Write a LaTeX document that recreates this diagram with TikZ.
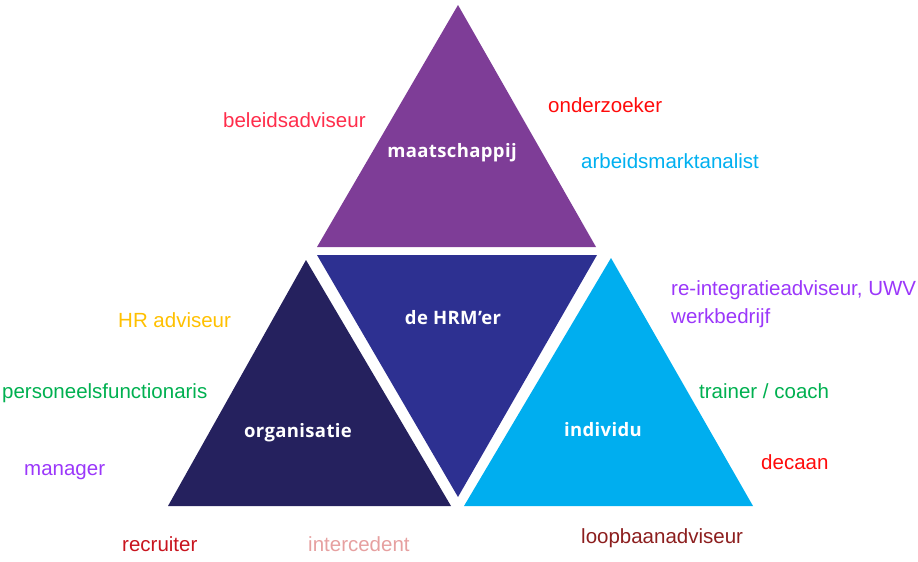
\documentclass[tikz,border=0pt]{standalone}
\usepackage{fontspec}
\setmainfont{Liberation Sans}
\newfontfamily\trifont{Open Sans}[LetterSpace=2]
\usepackage{tikz}
\usetikzlibrary{positioning}

\definecolor{societypurple}{RGB}{126,61,151}
\definecolor{hrmblue}{RGB}{45,48,145}
\definecolor{orgnavy}{RGB}{37,33,94}
\definecolor{indcyan}{RGB}{0,174,239}
\definecolor{rolepink}{RGB}{255,45,75}
\definecolor{rolered}{RGB}{255,10,10}
\definecolor{rolecyan}{RGB}{0,176,240}
\definecolor{roleviolet}{RGB}{155,55,250}
\definecolor{rolegold}{RGB}{255,192,0}
\definecolor{rolegreen}{RGB}{0,176,80}
\definecolor{rolemaroon}{RGB}{140,30,30}
\definecolor{rolecrimson}{RGB}{200,20,30}
\definecolor{rolerose}{RGB}{230,160,160}

\begin{document}
\begin{tikzpicture}[x=1pt,y=-1pt]

\tikzset{
  role/.style={font=\fontsize{20.5}{24}\selectfont, inner sep=0pt, anchor=base west},
  trilabel/.style={font=\trifont\bfseries\fontsize{18.5}{22}\selectfont,
                  text=white, inner sep=0pt, anchor=base}
}

% Page
\useasboundingbox (0,0) rectangle (918,562);

% Corners
\coordinate (maattop)   at (458,5);
\coordinate (maatleft)  at (317,247);
\coordinate (maatright) at (596,247);

\coordinate (hrmleft)   at (317,255);
\coordinate (hrmright)  at (597,255);
\coordinate (hrmbottom) at (458,497);

\coordinate (orgtop)    at (306,260);
\coordinate (orgleft)   at (168,506);
\coordinate (orgright)  at (451,506);

\coordinate (indtop)    at (611,258);
\coordinate (indleft)   at (464,506);
\coordinate (indright)  at (753,506);

% Triangles
\fill[societypurple] (maattop) -- (maatleft) -- (maatright) -- cycle;
\fill[hrmblue]       (hrmleft) -- (hrmright) -- (hrmbottom) -- cycle;
\fill[orgnavy]       (orgtop)  -- (orgleft)  -- (orgright)  -- cycle;
\fill[indcyan]       (indtop)  -- (indleft)  -- (indright)  -- cycle;

\node[trilabel] (maat) at (452,157) {maatschappij};
\node[trilabel] (hrm)  at (453,324) {de HRM’er};
\node[trilabel] (org)  at (298,437) {organisatie};
\node[trilabel] (ind)  at (603,436) {individu};

% Roles
\node[role, text=rolepink]   (beleid)   at (223,127) {beleidsadviseur};
\node[role, text=rolered]    (onderz)   at (548,112) {onderzoeker};
\node[role, text=rolecyan]   (arbeid)   at (581,168) {arbeidsmarktanalist};
\node[role, text=roleviolet] (reint)    at (671,295) {re-integratieadviseur, UWV};
\node[role, text=roleviolet] (werkb)    at ([yshift=-28pt]reint.base west) {werkbedrijf};
\node[role, text=rolegold]   (hradv)    at (118,327) {HR adviseur};
\node[role, text=rolegreen]  (personeel) at (2,398) {personeelsfunctionaris};
\node[role, text=rolegreen]  (trainer)  at (699,398) {trainer / coach};
\node[role, text=roleviolet] (manager)  at (24,475) {manager};
\node[role, text=rolered]    (decaan)   at (761,469) {decaan};
\node[role, text=rolemaroon] (loopbaan) at (581,543) {loopbaanadviseur};
\node[role, text=rolecrimson] (recruit) at (122,551) {recruiter};
\node[role, text=rolerose]   (interc)   at (308,551) {intercedent};

\end{tikzpicture}
\end{document}
